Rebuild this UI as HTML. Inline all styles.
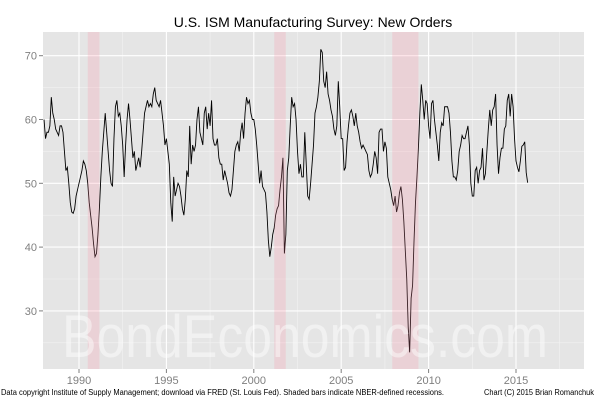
<!DOCTYPE html>
<html><head><meta charset="utf-8"><style>
body{margin:0;background:#fff;}
svg{display:block;font-family:"Liberation Sans",sans-serif;}
</style></head><body>
<svg id="chart" width="600" height="400">
<text x="313" y="27" text-anchor="middle" font-size="14" fill="#000">U.S. ISM Manufacturing Survey: New Orders</text>
<rect x="43" y="32" width="541" height="337" fill="#e5e5e5"/>
<g id="grid"></g>
<g id="series"></g>
<g id="bars"></g>
<text x="305" y="357" text-anchor="middle" font-size="60" fill="#ffffff" fill-opacity="0.45" textLength="486" lengthAdjust="spacingAndGlyphs">BondEconomics.com</text>
<g id="axes"></g>
<text x="1" y="395" font-size="8" fill="#000" textLength="443" lengthAdjust="spacingAndGlyphs">Data copyright Institute of Supply Management; download via FRED (St. Louis Fed). Shaded bars indicate NBER-defined recessions.</text>
<text x="594" y="395" text-anchor="end" font-size="8" fill="#000" textLength="110" lengthAdjust="spacingAndGlyphs">Chart (C) 2015 Brian Romanchuk</text>
</svg>
<script>
const startYear = 1988;
const newOrders = [
60,57,58,58,59,63.5,61,60,58.5,58,57.5,59,
59,58,55,52,52.5,50,47,45.5,45.3,46,48,49,
50,51,52,53.5,53,52,50,47,45,43,40.5,38.5,
39,42,46,51,55,58,61,58,55,52,50,49.5,
57,62,63,60.5,61,59,56,51,56,60,62.5,60,
57,54,55,52,53,54,52.5,55,58,61,62,63,
62,62.5,62,64,65,63,62.5,62,63,61,59,56,
57,55,53,47,44,51,48,49,50,49.5,48,46,
45,47.5,52,51,59,53,56,55,56,60,62,58,
57,56,61,62,58.5,61,59,63,57,56,56,57,
54,53,53,50.5,52,51,50,48.5,48,49,52,55,
56,56.5,55,58,59.5,57,61,63.5,62.5,63,61,60,
60,58.5,56,53,50,52,49.5,49,48.5,45.5,41,38.5,
40,42,43,45,46,46.5,49,51,54,39,42,52,
54,59,63.5,62,62.5,60,55,51.5,53,51,51,58,
53,48,47.5,50,53,56,61,62,63.5,66,71,70.5,
66,65,67.5,64,63,61.5,60.5,58.5,57.5,59,66,62,
57,57,52,52.5,56.5,59,61,61.5,60.5,59,61,59,
58,56.5,55.5,56,55.5,55,54.5,52,51,51.5,53,55,
54,51.5,58,58.5,58.5,55,56.5,55.5,51,50,49,47.5,
46.5,48,45.5,46.5,48.5,49.5,47.5,44,39.5,35,27.5,23.5,
32,34,41,47,51,55.5,61,65.5,63,60,63,62.5,
59,57,62.5,63,60,58,56,53.5,58,59.5,59,62,
62,62,61,58,53.5,51,51,50.5,52,55,56,57.5,
57,57,58,59,56,50,48,48,52,52.5,50,52,
52.5,55.5,50.5,51.5,55,58.5,61.5,59,61.5,62,64,56,
51.5,54,55.5,55.5,58.5,59,63,64,60.5,64,62,57,
53.5,52.5,51.8,53.5,55.8,56,56.5,51.7,50.1
];
const recessionStarts = [1990.5, 2001.17, 2007.92];
const recessionEnds = [1991.17, 2001.83, 2009.42];
const xTicks = [1990, 1995, 2000, 2005, 2010, 2015];
const yTicks = [30, 40, 50, 60, 70];

const NS = "http://www.w3.org/2000/svg";
const L = 43, R = 584, T = 32, B = 369;
function x(yr){ return 79 + (yr - 1990) * 17.48; }
function y(v){ return 183.3 + (50 - v) * 6.38; }
function mk(tag, attrs, parent){
  const e = document.createElementNS(NS, tag);
  for (const k in attrs) e.setAttribute(k, attrs[k]);
  parent.appendChild(e); return e;
}
const grid = document.getElementById('grid');
const axes = document.getElementById('axes');
for (let v = 25; v <= 75; v += 10) {
  if (y(v) < T || y(v) > B) continue;
  const l = mk('line', {x1:L, x2:R, y1:y(v), y2:y(v), stroke:'#f2f2f2', 'stroke-width':0.6}, grid);
  
  
}
for (let yr = 1987.5; yr <= 2020; yr += 5) {
  if (x(yr) < L || x(yr) > R) continue;
  const l = mk('line', {x1:x(yr), x2:x(yr), y1:T, y2:B, stroke:'#f2f2f2', 'stroke-width':0.6}, grid);
  
  
}
yTicks.forEach(v => {
  const l = mk('line', {x1:L, x2:R, y1:y(v), y2:y(v), stroke:'#fff', 'stroke-width':1.1}, grid);
  
  
  const t = mk('line', {x1:L-4, x2:L, y1:y(v), y2:y(v), stroke:'#7f7f7f', 'stroke-width':1}, axes);
  
  
  const lab = mk('text', {x:L-6, y:y(v)+4, 'text-anchor':'end', 'font-size':11, fill:'#7f7f7f'}, axes);
  lab.textContent = v;
  
  
});
xTicks.forEach(yr => {
  const l = mk('line', {x1:x(yr), x2:x(yr), y1:T, y2:B, stroke:'#fff', 'stroke-width':1.1}, grid);
  
  
  const t = mk('line', {x1:x(yr), x2:x(yr), y1:B, y2:B+4, stroke:'#7f7f7f', 'stroke-width':1}, axes);
  
  
  const lab = mk('text', {x:x(yr), y:B+15, 'text-anchor':'middle', 'font-size':11, fill:'#7f7f7f'}, axes);
  lab.textContent = yr;
  
  
});
const pts = newOrders.map((v, i) => x(startYear + i / 12).toFixed(2) + ',' + y(v).toFixed(2)).join(' ');
const line = mk('polyline', {points:pts, fill:'none', stroke:'#000', 'stroke-width':0.9, 'stroke-linejoin':'miter'}, document.getElementById('series'));


const bars = document.getElementById('bars');
recessionStarts.forEach((s, i) => {
  const r = mk('rect', {x:x(s), y:T, width:x(recessionEnds[i]) - x(s), height:B - T, fill:'rgb(255,140,165)', 'fill-opacity':0.22}, bars);
  
  
});
</script>
</body></html>
